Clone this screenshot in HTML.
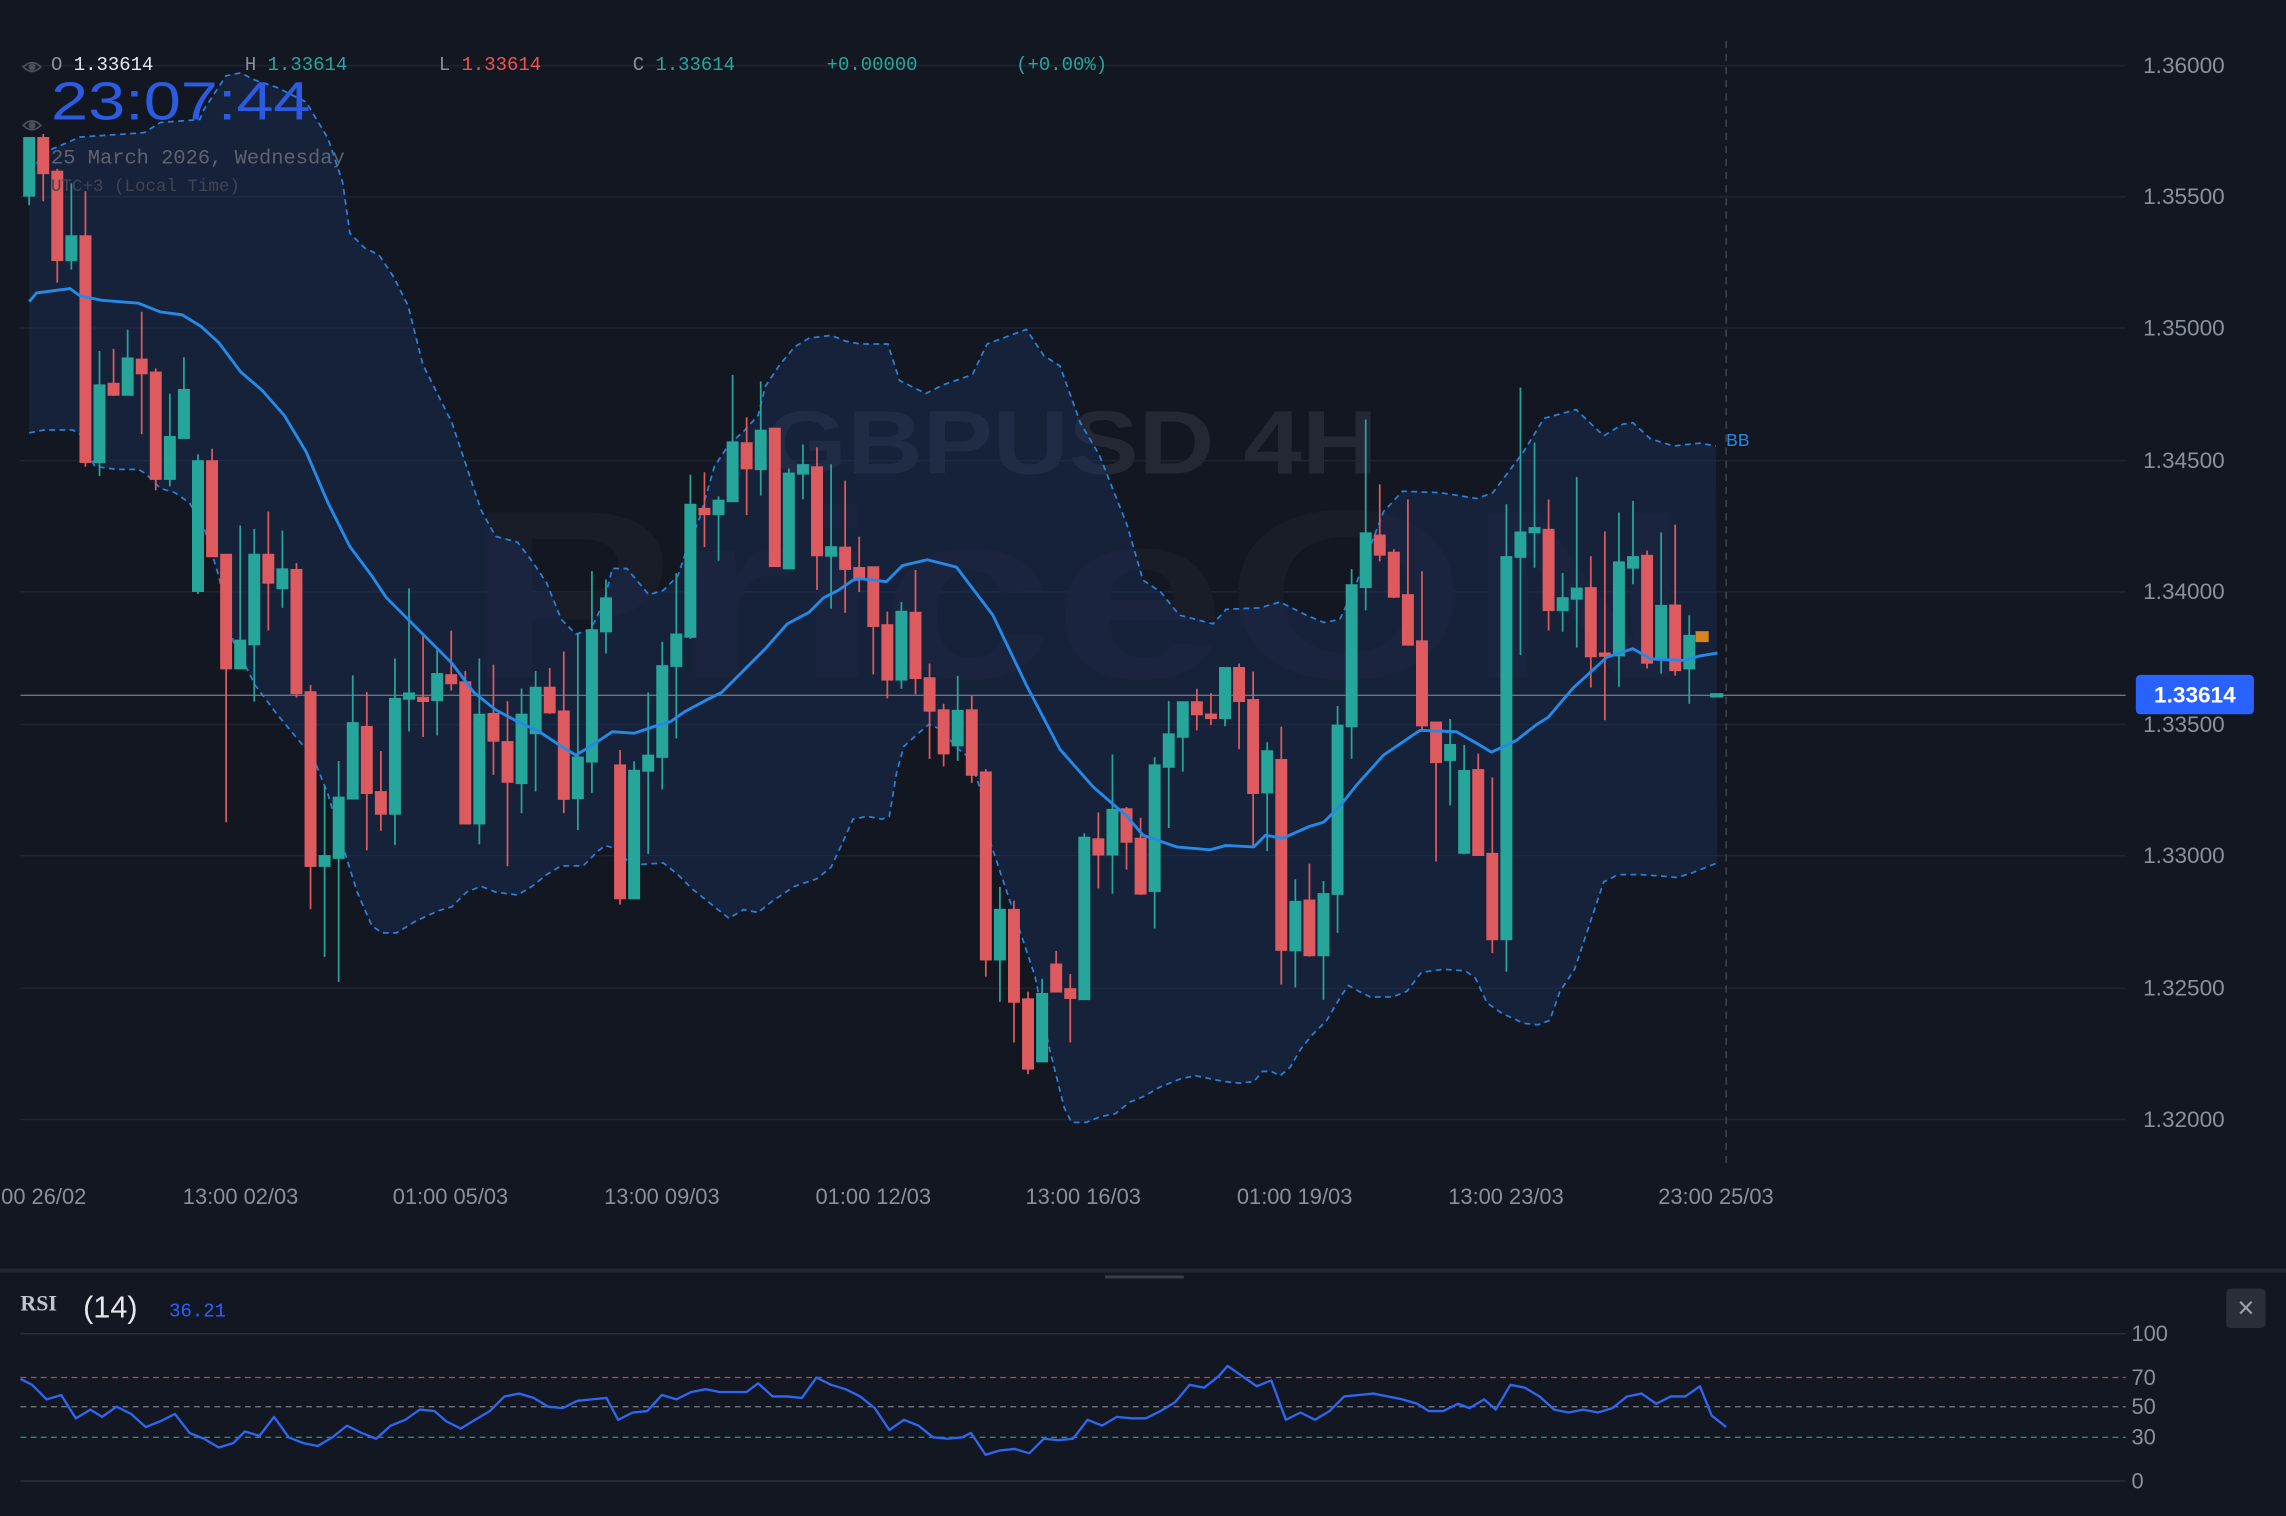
<!DOCTYPE html>
<html><head><meta charset="utf-8"><style>
html,body{margin:0;padding:0;background:#131722;}
svg{display:block;}
</style></head><body>
<svg width="2286" height="1516" viewBox="0 0 1568 1040" preserveAspectRatio="none" xmlns="http://www.w3.org/2000/svg">
<rect width="1568" height="1040" fill="#131722"/>
<!-- grid -->
<g stroke="#1f2431" stroke-width="1">
<line x1="14" y1="45" x2="1458" y2="45"/><line x1="14" y1="135" x2="1458" y2="135"/><line x1="14" y1="225" x2="1458" y2="225"/><line x1="14" y1="316" x2="1458" y2="316"/><line x1="14" y1="406" x2="1458" y2="406"/><line x1="14" y1="497" x2="1458" y2="497"/><line x1="14" y1="587" x2="1458" y2="587"/><line x1="14" y1="678" x2="1458" y2="678"/><line x1="14" y1="768" x2="1458" y2="768"/>
</g>
<!-- watermark -->
<text x="320" y="465" font-family="Liberation Sans, sans-serif" font-weight="bold" font-size="165" fill="#191d28" textLength="840" lengthAdjust="spacingAndGlyphs">PriceON</text>
<text x="525" y="325" font-family="Liberation Sans, sans-serif" font-weight="bold" font-size="62" fill="#232834" textLength="420" lengthAdjust="spacingAndGlyphs">GBPUSD 4H</text>
<!-- BB fill -->
<polygon fill="#1c3566" fill-opacity="0.35" points="20,117 34,103 55,94 99,91 110,84 137,82 140,75 155,52 165,50 175,55 190,60 210,70 225,95 235,125 240,160 250,170 260,175 270,190 280,210 290,250 300,270 310,290 320,320 330,350 340,368 355,372 365,385 375,400 385,425 395,435 405,432 410,422 415,410 420,390 430,390 445,408 455,405 465,395 470,380 480,355 490,320 500,305 510,296 520,285 525,265 535,250 545,238 555,232 570,230 580,234 590,236 609,236 617,261 635,270 647,264 667,257 677,236 704,226 716,244 727,251 741,290 754,312 773,360 784,398 796,406 809,422 832,428 841,418 864,417 878,413 896,422 908,427 919,425 930,401 949,351 962,337 988,338 1013,342 1024,338 1045,310 1059,287 1081,281 1100,299 1113,291 1120,290 1132,301 1148,306 1166,304 1177,306 1178,592 1160,599 1150,602 1140,601 1125,600 1110,600 1100,605 1090,635 1080,665 1070,680 1063,700 1055,703 1045,702 1030,695 1020,688 1012,671 1005,666 990,665 975,667 965,680 955,684 940,684 932,680 925,676 920,683 910,700 900,710 892,720 885,732 878,738 872,735 866,735 860,742 850,743 840,742 830,740 820,738 810,740 795,746 785,752 775,756 765,764 755,766 745,770 735,770 730,760 720,720 710,670 700,640 690,610 680,580 672,540 665,520 655,512 650,505 645,500 637,497 630,503 620,512 615,530 610,560 605,562 595,560 585,562 578,578 570,595 560,603 545,608 530,618 520,626 510,624 500,630 490,622 475,610 465,600 455,592 440,593 430,590 422,582 415,580 410,584 400,594 385,594 375,600 365,608 355,614 340,612 330,608 320,612 310,622 300,625 285,632 272,640 262,640 255,635 245,612 235,580 225,545 215,520 205,508 200,502 190,490 175,470 160,440 150,395 140,362 130,345 120,338 110,335 100,325 95,322 80,322 65,320 55,298 50,295 30,295 20,297"/>
<g fill="none" stroke="#2a7fd8" stroke-width="1.2" stroke-dasharray="4,3">
<polyline points="20,117 34,103 55,94 99,91 110,84 137,82 140,75 155,52 165,50 175,55 190,60 210,70 225,95 235,125 240,160 250,170 260,175 270,190 280,210 290,250 300,270 310,290 320,320 330,350 340,368 355,372 365,385 375,400 385,425 395,435 405,432 410,422 415,410 420,390 430,390 445,408 455,405 465,395 470,380 480,355 490,320 500,305 510,296 520,285 525,265 535,250 545,238 555,232 570,230 580,234 590,236 609,236 617,261 635,270 647,264 667,257 677,236 704,226 716,244 727,251 741,290 754,312 773,360 784,398 796,406 809,422 832,428 841,418 864,417 878,413 896,422 908,427 919,425 930,401 949,351 962,337 988,338 1013,342 1024,338 1045,310 1059,287 1081,281 1100,299 1113,291 1120,290 1132,301 1148,306 1166,304 1177,306"/>
<polyline points="20,297 30,295 50,295 55,298 65,320 80,322 95,322 100,325 110,335 120,338 130,345 140,362 150,395 160,440 175,470 190,490 200,502 205,508 215,520 225,545 235,580 245,612 255,635 262,640 272,640 285,632 300,625 310,622 320,612 330,608 340,612 355,614 365,608 375,600 385,594 400,594 410,584 415,580 422,582 430,590 440,593 455,592 465,600 475,610 490,622 500,630 510,624 520,626 530,618 545,608 560,603 570,595 578,578 585,562 595,560 605,562 610,560 615,530 620,512 630,503 637,497 645,500 650,505 655,512 665,520 672,540 680,580 690,610 700,640 710,670 720,720 730,760 735,770 745,770 755,766 765,764 775,756 785,752 795,746 810,740 820,738 830,740 840,742 850,743 860,742 866,735 872,735 878,738 885,732 892,720 900,710 910,700 920,683 925,676 932,680 940,684 955,684 965,680 975,667 990,665 1005,666 1012,671 1020,688 1030,695 1045,702 1055,703 1063,700 1070,680 1080,665 1090,635 1100,605 1110,600 1125,600 1140,601 1150,602 1160,599 1178,592"/>
</g>
<!-- price line & vertical -->
<line x1="14" y1="477" x2="1458" y2="477" stroke="#6e7380" stroke-width="1"/>
<line x1="1184" y1="28" x2="1184" y2="800" stroke="#3a3e4a" stroke-width="1.2" stroke-dasharray="5,4"/>
<!-- candles -->
<g id="c" stroke-width="1.2">
<g stroke="#26a69a" fill="#26a69a">
<line x1="20" y1="94.6" x2="20" y2="140.8"/><rect x="16.5" y="94.6" width="7" height="39.7"/>
<line x1="48.95" y1="125.8" x2="48.95" y2="185"/><rect x="45.45" y="162" width="7" height="16.5"/>
<line x1="68.25" y1="240.8" x2="68.25" y2="326.6"/><rect x="64.75" y="264.3" width="7" height="52.7"/>
<line x1="87.55" y1="226.2" x2="87.55" y2="270.9"/><rect x="84.05" y="245.8" width="7" height="25.1"/>
<line x1="116.5" y1="270.1" x2="116.5" y2="333.6"/><rect x="113" y="299.7" width="7" height="28.9"/>
<line x1="126.15" y1="245.1" x2="126.15" y2="300.5"/><rect x="122.65" y="267.4" width="7" height="33.1"/>
<line x1="135.8" y1="311.6" x2="135.8" y2="407.5"/><rect x="132.3" y="316.3" width="7" height="89.2"/>
<line x1="164.75" y1="360.5" x2="164.75" y2="458.6"/><rect x="161.25" y="439.4" width="7" height="19.2"/>
<line x1="174.4" y1="362.8" x2="174.4" y2="481.3"/><rect x="170.9" y="380.5" width="7" height="61.6"/>
<line x1="193.7" y1="364" x2="193.7" y2="417"/><rect x="190.2" y="390.5" width="7" height="13.1"/>
<line x1="222.65" y1="539.4" x2="222.65" y2="656.4"/><rect x="219.15" y="587.2" width="7" height="6.9"/>
<line x1="232.3" y1="522.1" x2="232.3" y2="673.7"/><rect x="228.8" y="547.1" width="7" height="41.5"/>
<line x1="241.95" y1="463.3" x2="241.95" y2="547.9"/><rect x="238.45" y="496" width="7" height="51.9"/>
<line x1="270.9" y1="451.7" x2="270.9" y2="579.8"/><rect x="267.4" y="479.4" width="7" height="78.9"/>
<line x1="280.55" y1="403.6" x2="280.55" y2="501.7"/><rect x="277.05" y="475.6" width="7" height="3.8"/>
<line x1="299.85" y1="444" x2="299.85" y2="504.5"/><rect x="296.35" y="462.3" width="7" height="18"/>
<line x1="328.8" y1="451.7" x2="328.8" y2="579.2"/><rect x="325.3" y="490.2" width="7" height="74.8"/>
<line x1="357.75" y1="472.3" x2="357.75" y2="557.8"/><rect x="354.25" y="490.2" width="7" height="47.1"/>
<line x1="367.4" y1="460.3" x2="367.4" y2="543"/><rect x="363.9" y="471.7" width="7" height="31.3"/>
<line x1="396.35" y1="434.6" x2="396.35" y2="569.5"/><rect x="392.85" y="519.6" width="7" height="28"/>
<line x1="406" y1="391.8" x2="406" y2="543.9"/><rect x="402.5" y="432.3" width="7" height="90.2"/>
<line x1="415.65" y1="397.5" x2="415.65" y2="448.3"/><rect x="412.15" y="410.4" width="7" height="22.8"/>
<line x1="434.95" y1="522.2" x2="434.95" y2="617.1"/><rect x="431.45" y="528.7" width="7" height="87.6"/>
<line x1="444.6" y1="475.1" x2="444.6" y2="585.8"/><rect x="441.1" y="518.3" width="7" height="10.5"/>
<line x1="454.25" y1="440.3" x2="454.25" y2="541.6"/><rect x="450.75" y="456.9" width="7" height="62.4"/>
<line x1="463.9" y1="393.3" x2="463.9" y2="506.5"/><rect x="460.4" y="435.2" width="7" height="21.7"/>
<line x1="473.55" y1="325.7" x2="473.55" y2="438.3"/><rect x="470.05" y="346.2" width="7" height="90.7"/>
<line x1="492.85" y1="340.5" x2="492.85" y2="384.7"/><rect x="489.35" y="343.4" width="7" height="9.4"/>
<line x1="502.5" y1="257.2" x2="502.5" y2="343.9"/><rect x="499" y="303.4" width="7" height="40.5"/>
<line x1="521.8" y1="261.7" x2="521.8" y2="339.9"/><rect x="518.3" y="295.4" width="7" height="26.5"/>
<line x1="541.1" y1="321.4" x2="541.1" y2="390"/><rect x="537.6" y="324.8" width="7" height="65.2"/>
<line x1="550.75" y1="304.9" x2="550.75" y2="342.5"/><rect x="547.25" y="319" width="7" height="6"/>
<line x1="570.05" y1="318.5" x2="570.05" y2="417.5"/><rect x="566.55" y="375.3" width="7" height="6"/>
<line x1="618.3" y1="413" x2="618.3" y2="472.5"/><rect x="614.8" y="419.6" width="7" height="46.7"/>
<line x1="656.9" y1="463.7" x2="656.9" y2="522"/><rect x="653.4" y="487.6" width="7" height="23.8"/>
<line x1="685.85" y1="608.4" x2="685.85" y2="687.3"/><rect x="682.35" y="624.1" width="7" height="34.2"/>
<line x1="714.8" y1="671.5" x2="714.8" y2="725.5"/><rect x="711.3" y="681.8" width="7" height="46.4"/>
<line x1="743.75" y1="571.6" x2="743.75" y2="685.5"/><rect x="740.25" y="574.6" width="7" height="110.9"/>
<line x1="763.05" y1="517.6" x2="763.05" y2="613.1"/><rect x="759.55" y="555.5" width="7" height="30.8"/>
<line x1="792" y1="519.5" x2="792" y2="637"/><rect x="788.5" y="525" width="7" height="86.3"/>
<line x1="801.65" y1="481" x2="801.65" y2="568"/><rect x="798.15" y="503.7" width="7" height="22.4"/>
<line x1="811.3" y1="481.7" x2="811.3" y2="529.4"/><rect x="807.8" y="481.7" width="7" height="23.8"/>
<line x1="840.25" y1="458.2" x2="840.25" y2="498.2"/><rect x="836.75" y="458.2" width="7" height="34.5"/>
<line x1="869.2" y1="509.2" x2="869.2" y2="583.8"/><rect x="865.7" y="515.3" width="7" height="28.4"/>
<line x1="888.5" y1="603.2" x2="888.5" y2="677.4"/><rect x="885" y="618.6" width="7" height="33.4"/>
<line x1="907.8" y1="604.4" x2="907.8" y2="685.9"/><rect x="904.3" y="613.3" width="7" height="42.1"/>
<line x1="917.45" y1="484.4" x2="917.45" y2="640"/><rect x="913.95" y="497.7" width="7" height="115.6"/>
<line x1="927.1" y1="390.4" x2="927.1" y2="520.5"/><rect x="923.6" y="401.4" width="7" height="96.9"/>
<line x1="936.75" y1="287.8" x2="936.75" y2="418.6"/><rect x="933.25" y="365.8" width="7" height="37"/>
<line x1="994.65" y1="493.2" x2="994.65" y2="552.5"/><rect x="991.15" y="511" width="7" height="10.4"/>
<line x1="1004.3" y1="511" x2="1004.3" y2="586"/><rect x="1000.8" y="528.8" width="7" height="56.3"/>
<line x1="1033.25" y1="345.9" x2="1033.25" y2="666.6"/><rect x="1029.75" y="382.1" width="7" height="262.3"/>
<line x1="1042.9" y1="265.9" x2="1042.9" y2="449.4"/><rect x="1039.4" y="365.2" width="7" height="16.9"/>
<line x1="1052.55" y1="303.6" x2="1052.55" y2="389.5"/><rect x="1049.05" y="362.2" width="7" height="3"/>
<line x1="1071.85" y1="393.1" x2="1071.85" y2="433.4"/><rect x="1068.35" y="410.3" width="7" height="8.3"/>
<line x1="1081.5" y1="327.3" x2="1081.5" y2="444.3"/><rect x="1078" y="403.7" width="7" height="7.1"/>
<line x1="1110.45" y1="351.6" x2="1110.45" y2="471.1"/><rect x="1106.95" y="385.7" width="7" height="64"/>
<line x1="1120.1" y1="343.6" x2="1120.1" y2="400.8"/><rect x="1116.6" y="382.1" width="7" height="7.4"/>
<line x1="1139.4" y1="365.2" x2="1139.4" y2="462.1"/><rect x="1135.9" y="415.6" width="7" height="37"/>
<line x1="1158.7" y1="422.1" x2="1158.7" y2="482.9"/><rect x="1155.2" y="436.1" width="7" height="22.5"/>
<rect x="1173" y="475.5" width="9" height="3" stroke="none"/>
</g>
<g stroke="#dd5a5e" fill="#dd5a5e">
<line x1="29.65" y1="91.9" x2="29.65" y2="138.1"/><rect x="26.15" y="94.6" width="7" height="24.3"/>
<line x1="39.3" y1="115.8" x2="39.3" y2="193.9"/><rect x="35.8" y="117.7" width="7" height="60.8"/>
<line x1="58.6" y1="131.2" x2="58.6" y2="320.1"/><rect x="55.1" y="162" width="7" height="155"/>
<line x1="77.9" y1="239.3" x2="77.9" y2="271.6"/><rect x="74.4" y="263.2" width="7" height="7.7"/>
<line x1="97.2" y1="213.9" x2="97.2" y2="297.8"/><rect x="93.7" y="246.6" width="7" height="9.6"/>
<line x1="106.85" y1="252.8" x2="106.85" y2="336.3"/><rect x="103.35" y="255.5" width="7" height="73.1"/>
<line x1="145.45" y1="307.8" x2="145.45" y2="381.7"/><rect x="141.95" y="316.3" width="7" height="65.4"/>
<line x1="155.1" y1="380.5" x2="155.1" y2="564.1"/><rect x="151.6" y="380.5" width="7" height="78.1"/>
<line x1="184.05" y1="350.9" x2="184.05" y2="432.5"/><rect x="180.55" y="380.5" width="7" height="19.3"/>
<line x1="203.35" y1="386.3" x2="203.35" y2="478.6"/><rect x="199.85" y="390.9" width="7" height="84.7"/>
<line x1="213" y1="469.8" x2="213" y2="623.7"/><rect x="209.5" y="474.8" width="7" height="119.3"/>
<line x1="251.6" y1="474.8" x2="251.6" y2="583.3"/><rect x="248.1" y="498.6" width="7" height="45.5"/>
<line x1="261.25" y1="515.2" x2="261.25" y2="569.9"/><rect x="257.75" y="543.3" width="7" height="15"/>
<line x1="290.2" y1="436.3" x2="290.2" y2="505.6"/><rect x="286.7" y="478.6" width="7" height="2.4"/>
<line x1="309.5" y1="432.6" x2="309.5" y2="473.7"/><rect x="306" y="463.1" width="7" height="5.7"/>
<line x1="319.15" y1="460.3" x2="319.15" y2="565"/><rect x="315.65" y="468" width="7" height="97"/>
<line x1="338.45" y1="456" x2="338.45" y2="531.6"/><rect x="334.95" y="489.7" width="7" height="18.5"/>
<line x1="348.1" y1="481.1" x2="348.1" y2="594.3"/><rect x="344.6" y="509" width="7" height="27.4"/>
<line x1="377.05" y1="458.3" x2="377.05" y2="489.7"/><rect x="373.55" y="471.7" width="7" height="17.1"/>
<line x1="386.7" y1="446.9" x2="386.7" y2="557.8"/><rect x="383.2" y="488" width="7" height="60.1"/>
<line x1="425.3" y1="514.5" x2="425.3" y2="620.6"/><rect x="421.8" y="525" width="7" height="91.3"/>
<line x1="483.2" y1="324" x2="483.2" y2="375.3"/><rect x="479.7" y="349" width="7" height="3.8"/>
<line x1="512.15" y1="286.3" x2="512.15" y2="353.3"/><rect x="508.65" y="304" width="7" height="17.4"/>
<line x1="531.45" y1="294" x2="531.45" y2="388.4"/><rect x="527.95" y="294" width="7" height="94.4"/>
<line x1="560.4" y1="306.9" x2="560.4" y2="404.7"/><rect x="556.9" y="320.5" width="7" height="60.5"/>
<line x1="579.7" y1="329.7" x2="579.7" y2="420.4"/><rect x="576.2" y="375.6" width="7" height="14.8"/>
<line x1="589.35" y1="368.2" x2="589.35" y2="406.1"/><rect x="585.85" y="389.6" width="7" height="7.1"/>
<line x1="599" y1="391.7" x2="599" y2="462.6"/><rect x="595.5" y="389.1" width="7" height="40.4"/>
<line x1="608.65" y1="419.6" x2="608.65" y2="479.1"/><rect x="605.15" y="428.8" width="7" height="37.5"/>
<line x1="627.95" y1="391" x2="627.95" y2="476.2"/><rect x="624.45" y="420.3" width="7" height="44.9"/>
<line x1="637.6" y1="455.2" x2="637.6" y2="520.6"/><rect x="634.1" y="465.2" width="7" height="22.4"/>
<line x1="647.25" y1="482.8" x2="647.25" y2="525.7"/><rect x="643.75" y="487.2" width="7" height="29.7"/>
<line x1="666.55" y1="477.3" x2="666.55" y2="537.1"/><rect x="663.05" y="487.2" width="7" height="44.4"/>
<line x1="676.2" y1="527.6" x2="676.2" y2="670"/><rect x="672.7" y="529.8" width="7" height="128.5"/>
<line x1="695.5" y1="617.9" x2="695.5" y2="715.2"/><rect x="692" y="624.1" width="7" height="63.2"/>
<line x1="705.15" y1="680.3" x2="705.15" y2="736.9"/><rect x="701.65" y="685.5" width="7" height="47.7"/>
<line x1="724.45" y1="652.4" x2="724.45" y2="680.3"/><rect x="720.95" y="661.6" width="7" height="18.7"/>
<line x1="734.1" y1="668.2" x2="734.1" y2="715.2"/><rect x="730.6" y="678.5" width="7" height="6.2"/>
<line x1="753.4" y1="557.3" x2="753.4" y2="609.5"/><rect x="749.9" y="575.7" width="7" height="10.6"/>
<line x1="772.7" y1="553.6" x2="772.7" y2="596.6"/><rect x="769.2" y="555.1" width="7" height="22.4"/>
<line x1="782.35" y1="561" x2="782.35" y2="613.9"/><rect x="778.85" y="575.3" width="7" height="37.8"/>
<line x1="820.95" y1="472.5" x2="820.95" y2="501.1"/><rect x="817.45" y="481.7" width="7" height="8.4"/>
<line x1="830.6" y1="475.4" x2="830.6" y2="497.5"/><rect x="827.1" y="490.1" width="7" height="2.6"/>
<line x1="849.9" y1="455.2" x2="849.9" y2="514"/><rect x="846.4" y="458.2" width="7" height="22.8"/>
<line x1="859.55" y1="460.7" x2="859.55" y2="580.1"/><rect x="856.05" y="480.2" width="7" height="63.9"/>
<line x1="878.85" y1="498.5" x2="878.85" y2="675.5"/><rect x="875.35" y="521.3" width="7" height="130.4"/>
<line x1="898.15" y1="592.5" x2="898.15" y2="656.3"/><rect x="894.65" y="617.7" width="7" height="37.7"/>
<line x1="946.4" y1="332.3" x2="946.4" y2="385.1"/><rect x="942.9" y="367.3" width="7" height="13.3"/>
<line x1="956.05" y1="376.8" x2="956.05" y2="410.3"/><rect x="952.55" y="379.1" width="7" height="30.3"/>
<line x1="965.7" y1="342.7" x2="965.7" y2="442.9"/><rect x="962.2" y="408.2" width="7" height="34.1"/>
<line x1="975.35" y1="391.9" x2="975.35" y2="500.7"/><rect x="971.85" y="439.9" width="7" height="57.8"/>
<line x1="985" y1="495.6" x2="985" y2="591"/><rect x="981.5" y="495.6" width="7" height="27.3"/>
<line x1="1013.95" y1="517" x2="1013.95" y2="586.6"/><rect x="1010.45" y="528.2" width="7" height="58.4"/>
<line x1="1023.6" y1="533.3" x2="1023.6" y2="653.9"/><rect x="1020.1" y="585.7" width="7" height="58.7"/>
<line x1="1062.2" y1="342.7" x2="1062.2" y2="432.5"/><rect x="1058.7" y="363.4" width="7" height="55.2"/>
<line x1="1091.15" y1="381.5" x2="1091.15" y2="471.6"/><rect x="1087.65" y="403.4" width="7" height="46.9"/>
<line x1="1100.8" y1="364.6" x2="1100.8" y2="494.1"/><rect x="1097.3" y="448.2" width="7" height="1.8"/>
<line x1="1129.75" y1="377.7" x2="1129.75" y2="458.6"/><rect x="1126.25" y="381.2" width="7" height="73.5"/>
<line x1="1149.05" y1="359.9" x2="1149.05" y2="463.6"/><rect x="1145.55" y="415.3" width="7" height="44.5"/>
</g>
<rect x="1163" y="433" width="9" height="7.5" fill="#d9831f"/>
</g>
<!-- BB middle -->
<polyline fill="none" stroke="#2589e6" stroke-width="2" stroke-linejoin="round" points="20,207 25,201 40,199 48,198 55,203 70,206 95,208 110,214 125,216 138,224 150,235 165,255 180,268 195,285 210,310 225,345 240,375 255,395 265,410 280,425 295,440 310,455 325,475 340,487 355,495 370,502 385,512 395,518 405,512 420,502 435,503 450,498 460,495 470,488 485,480 495,475 510,460 525,445 540,428 555,420 565,410 575,405 585,398 590,397 608,399 619,388 636,384 656,389 681,422 704,470 727,514 750,540 773,560 784,573 807,581 830,583 841,580 860,581 868,573 880,575 898,567 908,564 919,553 931,538 949,518 974,501 999,502 1013,510 1023,516 1040,508 1054,497 1062,492 1079,472 1102,451 1120,445 1132,452 1155,453 1166,450 1178,448"/>
<text x="1184" y="306" font-family="Liberation Sans, sans-serif" font-size="12" fill="#2589e6">BB</text>
<!-- price axis -->
<g font-family="Liberation Sans, sans-serif" font-size="15.5" fill="#8a909c">
<text x="1470" y="50">1.36000</text><text x="1470" y="140">1.35500</text><text x="1470" y="230">1.35000</text><text x="1470" y="321">1.34500</text><text x="1470" y="411">1.34000</text><text x="1470" y="502">1.33500</text><text x="1470" y="592">1.33000</text><text x="1470" y="683">1.32500</text><text x="1470" y="773">1.32000</text>
</g>
<rect x="1465" y="463" width="81" height="27" rx="3" fill="#2962ff"/>
<text x="1505.5" y="482" text-anchor="middle" font-family="Liberation Sans, sans-serif" font-weight="bold" font-size="15.5" fill="#ffffff">1.33614</text>
<!-- time axis -->
<g font-family="Liberation Sans, sans-serif" font-size="15" fill="#8a909c" text-anchor="middle">
<text x="30" y="826">00 26/02</text><text x="165" y="826">13:00 02/03</text><text x="309" y="826">01:00 05/03</text><text x="454" y="826">13:00 09/03</text><text x="599" y="826">01:00 12/03</text><text x="743" y="826">13:00 16/03</text><text x="888" y="826">01:00 19/03</text><text x="1033" y="826">13:00 23/03</text><text x="1177" y="826">23:00 25/03</text>
</g>
<!-- legend -->
<g font-family="Liberation Mono, monospace" font-size="13">
<text x="35" y="48" fill="#8a909c">O <tspan fill="#e6e8ec">1.33614</tspan></text>
<text x="168" y="48" fill="#8a909c">H <tspan fill="#26a69a">1.33614</tspan></text>
<text x="301" y="48" fill="#8a909c">L <tspan fill="#ef5350">1.33614</tspan></text>
<text x="434" y="48" fill="#8a909c">C <tspan fill="#26a69a">1.33614</tspan></text>
<text x="567" y="48" fill="#26a69a">+0.00000</text>
<text x="697" y="48" fill="#26a69a">(+0.00%)</text>
</g>
<g fill="none" stroke="#4a4f5c" stroke-width="1.2">
<path d="M16,46 Q22,40 28,46 Q22,52 16,46Z"/><circle cx="22" cy="46" r="1.8" fill="#4a4f5c"/>
<path d="M16,86 Q22,80 28,86 Q22,92 16,86Z"/><circle cx="22" cy="86" r="1.8" fill="#4a4f5c"/>
</g>
<text x="35" y="82" font-family="Liberation Sans, sans-serif" font-size="37" fill="#2a5be0" textLength="178" lengthAdjust="spacingAndGlyphs">23:07:44</text>
<text x="35" y="112" font-family="Liberation Mono, monospace" font-size="14" fill="#5d6370">25 March 2026, Wednesday</text>
<text x="35" y="131" font-family="Liberation Mono, monospace" font-size="12" fill="#404552">UTC+3 (Local Time)</text>
<!-- separator -->
<rect x="0" y="870" width="1568" height="3" fill="#22262f"/>
<rect x="758" y="875" width="54" height="2" fill="#3a3e4a"/>
<!-- RSI pane -->
<text x="14" y="899" font-family="Liberation Serif, serif" font-weight="bold" font-size="15" fill="#c0c4cc">RSI</text>
<text x="57" y="904" font-family="Liberation Sans, sans-serif" font-size="21" fill="#e6e8ec">(14)</text>
<text x="116" y="903" font-family="Liberation Mono, monospace" font-size="13" fill="#2962ff">36.21</text>
<rect x="1527" y="884" width="27" height="27" rx="3" fill="#2a2e39"/>
<text x="1540.5" y="904" text-anchor="middle" font-family="Liberation Sans, sans-serif" font-size="20" fill="#9aa0ab">×</text>
<line x1="14" y1="915" x2="1458" y2="915" stroke="#2a2e39"/>
<line x1="14" y1="1016" x2="1458" y2="1016" stroke="#2a2e39"/>
<line x1="14" y1="945" x2="1458" y2="945" stroke="#b84a4c" stroke-dasharray="4,3" stroke-width="0.9"/>
<line x1="14" y1="965" x2="1458" y2="965" stroke="#6e7380" stroke-dasharray="4,3" stroke-width="0.9"/>
<line x1="14" y1="986" x2="1458" y2="986" stroke="#2a8a80" stroke-dasharray="4,3" stroke-width="0.9"/>
<g font-family="Liberation Sans, sans-serif" font-size="15" fill="#8a909c">
<text x="1462" y="920">100</text><text x="1462" y="950">70</text><text x="1462" y="970">50</text><text x="1462" y="991">30</text><text x="1462" y="1021">0</text>
</g>
<polyline fill="none" stroke="#2f66f0" stroke-width="1.6" stroke-linejoin="round" points="14,946 22,950 32,960 42,957 52,973 62,967 70,972 80,965 90,970 100,979 110,975 120,970 130,983 140,987 150,993 160,990 168,982 178,985 188,972 198,986 208,990 218,992 228,986 238,978 248,983 258,987 268,978 278,974 288,967 298,968 306,975 316,980 326,974 336,968 346,958 356,956 366,959 376,965 386,966 396,961 406,960 416,959 424,974 434,969 444,968 454,957 464,960 474,955 484,953 494,955 504,955 512,955 520,949 530,958 540,958 550,959 560,945 570,950 580,953 590,958 600,966 610,981 620,974 630,978 640,986 650,987 660,986 666,983 676,998 686,995 696,994 706,997 716,987 726,988 736,987 746,974 756,978 766,972 776,973 786,973 796,968 806,962 816,950 826,952 836,944 842,937 852,944 862,951 872,947 882,974 892,969 902,974 912,968 922,958 932,957 942,956 952,958 962,960 972,963 980,968 990,968 1000,963 1008,966 1018,960 1026,967 1036,950 1046,952 1056,958 1066,967 1076,969 1086,967 1096,969 1106,966 1116,958 1126,956 1136,963 1146,958 1156,958 1166,951 1174,971 1184,979"/>
</svg>
</body></html>
